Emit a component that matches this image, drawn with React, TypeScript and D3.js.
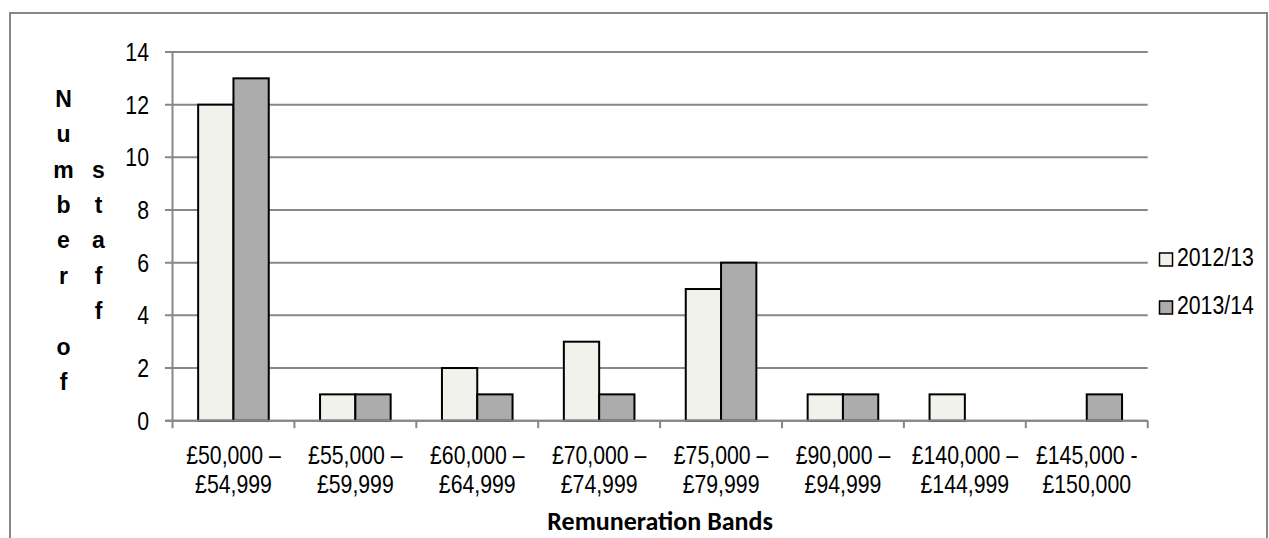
import React from "react";
import * as d3 from "d3";

const categories: string[][] = [
  ["£50,000 –", "£54,999"],
  ["£55,000 –", "£59,999"],
  ["£60,000 –", "£64,999"],
  ["£70,000 –", "£74,999"],
  ["£75,000 –", "£79,999"],
  ["£90,000 –", "£94,999"],
  ["£140,000 –", "£144,999"],
  ["£145,000 -", "£150,000"],
];
const series2012: number[] = [12, 1, 2, 3, 5, 1, 1, 0];
const series2013: number[] = [13, 1, 1, 1, 6, 1, 0, 1];
const seriesNames: string[] = ["2012/13", "2013/14"];
const yTicks: number[] = [0, 2, 4, 6, 8, 10, 12, 14];
const yTitleCol1: string[] = ["N", "u", "m", "b", "e", "r", "", "o", "f"];
const yTitleCol2: string[] = ["", "", "s", "t", "a", "f", "f"];
const xTitle = "Remuneration Bands";

const W = 1269;
const H = 538;
const left = 172.5;
const right = 1147.7;
const top = 52;
const bottom = 420.7;
const grid = "#878787";
const fills = ["#f2f2ec", "#acacac"];
const arial = "'Liberation Sans', Arial, sans-serif";
const SX = 0.85;

function NText(props: { x: number; y: number; anchor?: string; children: React.ReactNode; dy?: string }) {
  return (
    <g transform={`translate(${props.x},${props.y}) scale(${SX},1)`}>
      <text x={0} y={0} dy={props.dy} textAnchor={props.anchor || "start"} fontFamily={arial} fontSize={25} fill="#000">
        {props.children}
      </text>
    </g>
  );
}

export default function App() {
  const keys = categories.map((_, i) => String(i));
  const x = d3.scaleBand<string>().domain(keys).range([left, right]).paddingInner(0).paddingOuter(0);
  const y = d3.scaleLinear().domain([0, 14]).range([bottom, top]);
  const barW = 35.3;
  const data = [series2012, series2013];
  const bw = x.bandwidth();

  return (
    <svg width={W} height={H} style={{ position: "absolute", left: 0, top: 0, background: "#fff" }}>
      <rect x={10} y={13} width={1257} height={600} fill="#fff" stroke={grid} strokeWidth={2} />
      {yTicks.map((t) => (
        <line key={"g" + t} x1={165} x2={right} y1={y(t)} y2={y(t)} stroke={grid} strokeWidth={2} />
      ))}
      <line x1={left} x2={left} y1={top} y2={bottom} stroke={grid} strokeWidth={2} />
      {d3.range(categories.length + 1).map((i) => {
        const xx = i < categories.length ? x(String(i))! : right;
        return <line key={"xt" + i} x1={xx} x2={xx} y1={bottom} y2={bottom + 7.5} stroke={grid} strokeWidth={2} />;
      })}
      {data.map((s, si) =>
        s.map((v, i) => {
          if (v === 0) return null;
          const cx = x(String(i))! + bw / 2;
          const bx = si === 0 ? cx - barW : cx;
          return (
            <rect key={`b${si}-${i}`} x={bx} y={y(v)} width={barW} height={y(0) - y(v)} fill={fills[si]} stroke="#000" strokeWidth={2} />
          );
        })
      )}
      <line x1={165} x2={right} y1={bottom} y2={bottom} stroke={grid} strokeWidth={2} />
      {yTicks.map((t) => (
        <NText key={"yl" + t} x={149} y={y(t)} dy="0.36em" anchor="end">
          {t}
        </NText>
      ))}
      {categories.map((c, i) => (
        <g key={"xl" + i}>
          <NText x={x(String(i))! + bw / 2} y={464} anchor="middle">{c[0]}</NText>
          <NText x={x(String(i))! + bw / 2} y={492.5} anchor="middle">{c[1]}</NText>
        </g>
      ))}
      <text x={(left + right) / 2} y={530} textAnchor="middle" fontFamily="Carlito, Calibri, Lato, sans-serif" fontWeight="bold" fontSize={26} fill="#000">
        {xTitle}
      </text>
      {yTitleCol1.map((ch, i) => (
        <text key={"c1" + i} x={63.5} y={106.7 + i * 35.4} textAnchor="middle" fontFamily={arial} fontWeight="bold" fontSize={23} fill="#000">
          {ch}
        </text>
      ))}
      {yTitleCol2.map((ch, i) => (
        <text key={"c2" + i} x={98.5} y={106.7 + i * 35.4} textAnchor="middle" fontFamily={arial} fontWeight="bold" fontSize={23} fill="#000">
          {ch}
        </text>
      ))}
      {seriesNames.map((n, i) => (
        <g key={"lg" + i} transform={`translate(0,${i * 48})`}>
          <rect x={1159.5} y={253} width={13} height={13} fill={fills[i]} stroke="#000" strokeWidth={1.5} />
          <NText x={1177} y={266}>{n}</NText>
        </g>
      ))}
    </svg>
  );
}
